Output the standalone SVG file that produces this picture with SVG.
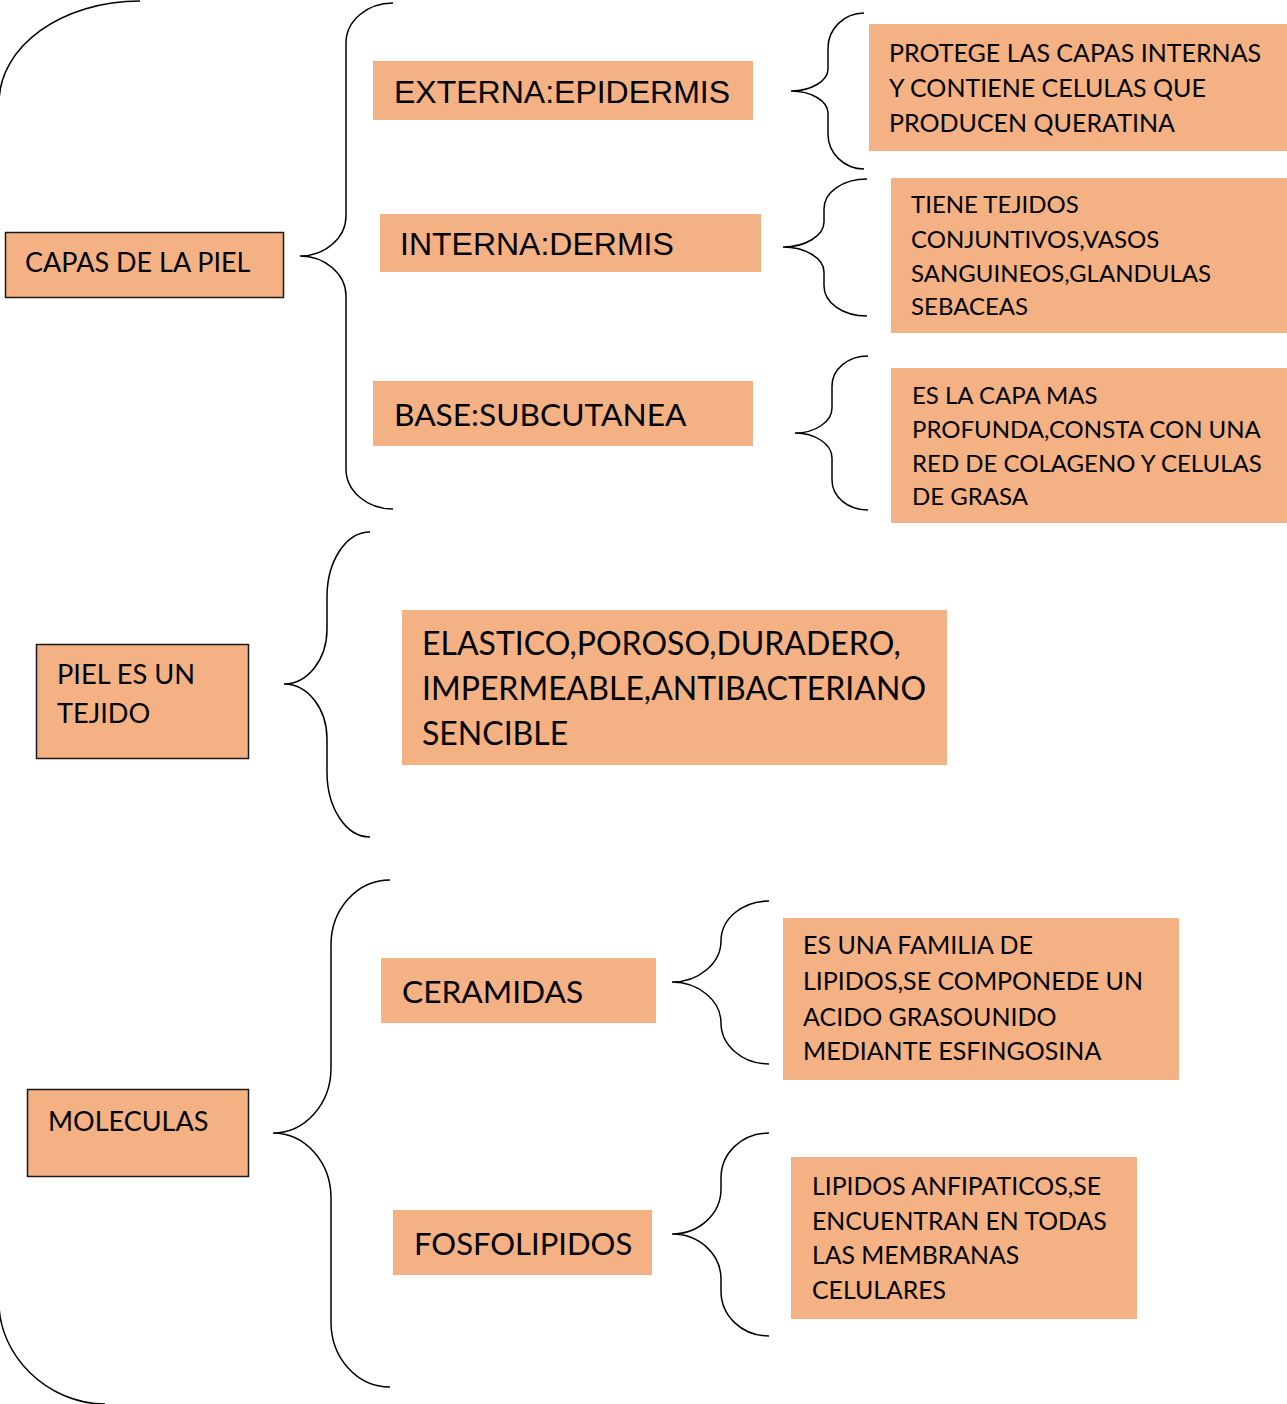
<svg xmlns="http://www.w3.org/2000/svg" width="1287" height="1404" viewBox="0 0 1287 1404">
<style>
.box{fill:#F4B183}
.bord{stroke:#1a1a1a;stroke-width:1.5}
.t{font-family:Lato,"Open Sans",sans-serif;fill:#000}
.a{font-family:"Liberation Sans",Arial,sans-serif;fill:#000;font-size:32px}
.br{fill:none;stroke:#000;stroke-width:1.5}
</style>
<rect width="1287" height="1404" fill="#fff"/>
<g id="connectors">
<path class="br" d="M140,1 C62,1 -1,46 -1,103 L-1,1303 C-1,1355 47,1404 105,1404"/>
<path class="br" d="M393,3 C367,3 346,21 346,43 L346,216 C346,238 325,256 300,256 C325,256 346,274 346,296 L346,469 C346,491 367,509 393,509"/>
<path class="br" d="M370,532 C346,532 327,561 327,597 L327,629 C327,659 308,684 284,684 C308,684 327,709 327,739 L327,772 C327,808 346,837 370,837"/>
<path class="br" d="M390,880 C357,880 331,909 331,945 L331,1068 C331,1104 305,1133 273,1133 C305,1133 331,1162 331,1198 L331,1322 C331,1358 357,1387 390,1387"/>
<path class="br" d="M864,13 C844,13 828,29 828,48 L828,69 C828,81 811,91 791,91 C811,91 828,101 828,113 L828,134 C828,153 844,169 864,169"/>
<path class="br" d="M867,179 C843,179 824,192 824,209 L824,222 C824,236 805,247 783,247 C805,247 824,258 824,272 L824,286 C824,303 843,316 867,316"/>
<path class="br" d="M868,356 C848,356 832,369 832,386 L832,408 C832,422 815,433 795,433 C815,433 832,444 832,458 L832,480 C832,497 848,510 868,510"/>
<path class="br" d="M769,901 C742,901 721,919 721,941 C721,963 699,982 672,982 C699,982 721,1001 721,1023 C721,1045 742,1064 769,1064"/>
<path class="br" d="M769,1133 C742,1133 721,1153 721,1178 L721,1189 C721,1214 699,1234 672,1234 C699,1234 721,1254 721,1279 L721,1291 C721,1316 742,1336 769,1336"/>
</g>
<g id="capas">
<rect class="box bord" x="5.5" y="232.5" width="278" height="65"/>
<text class="t" x="25" y="272" font-size="27">CAPAS DE LA PIEL</text>
</g>
<g id="externa">
<rect class="box" x="373" y="61" width="380" height="59"/>
<text class="a" x="394" y="103">EXTERNA:EPIDERMIS</text>
</g>
<g id="interna">
<rect class="box" x="380" y="214" width="381" height="58"/>
<text class="a" x="400" y="255">INTERNA:DERMIS</text>
</g>
<g id="base">
<rect class="box" x="373" y="381" width="380" height="65"/>
<text class="t" x="394" y="426" font-size="31.7">BASE:SUBCUTANEA</text>
</g>
<g id="protege">
<rect class="box" x="869" y="24" width="418" height="127"/>
<text class="t" font-size="25"><tspan x="889" y="62">PROTEGE LAS CAPAS INTERNAS</tspan><tspan x="889" y="97">Y CONTIENE CELULAS QUE</tspan><tspan x="889" y="132">PRODUCEN QUERATINA</tspan></text>
</g>
<g id="tiene">
<rect class="box" x="891" y="178" width="396" height="155"/>
<text class="t" font-size="24"><tspan x="911" y="213">TIENE TEJIDOS</tspan><tspan x="911" y="248">CONJUNTIVOS,VASOS</tspan><tspan x="911" y="282">SANGUINEOS,GLANDULAS</tspan><tspan x="911" y="315">SEBACEAS</tspan></text>
</g>
<g id="profunda">
<rect class="box" x="891" y="368" width="396" height="155"/>
<text class="t" font-size="24"><tspan x="912" y="404">ES LA CAPA MAS</tspan><tspan x="912" y="438">PROFUNDA,CONSTA CON UNA</tspan><tspan x="912" y="472">RED DE COLAGENO Y CELULAS</tspan><tspan x="912" y="505">DE GRASA</tspan></text>
</g>
<g id="piel">
<rect class="box bord" x="36.5" y="644.5" width="212" height="114"/>
<text class="t" font-size="27.2"><tspan x="57" y="684">PIEL ES UN</tspan><tspan x="57" y="723">TEJIDO</tspan></text>
</g>
<g id="elastico">
<rect class="box" x="402" y="610" width="545" height="155"/>
<text class="t" font-size="32"><tspan x="422" y="655">ELASTICO,POROSO,DURADERO,</tspan><tspan x="422" y="700">IMPERMEABLE,ANTIBACTERIANO</tspan><tspan x="422" y="745">SENCIBLE</tspan></text>
</g>
<g id="moleculas">
<rect class="box bord" x="27.5" y="1089.5" width="221" height="87"/>
<text class="t" x="48" y="1131" font-size="27">MOLECULAS</text>
</g>
<g id="ceramidas">
<rect class="box" x="381" y="958" width="275" height="65"/>
<text class="t" x="402" y="1003" font-size="31.7">CERAMIDAS</text>
</g>
<g id="fosfolipidos">
<rect class="box" x="393" y="1210" width="259" height="65"/>
<text class="t" x="414" y="1255" font-size="31">FOSFOLIPIDOS</text>
</g>
<g id="familia">
<rect class="box" x="783" y="918" width="396" height="162"/>
<text class="t" font-size="25"><tspan x="803" y="954">ES UNA FAMILIA DE</tspan><tspan x="803" y="990">LIPIDOS,SE COMPONEDE UN</tspan><tspan x="803" y="1026">ACIDO GRASOUNIDO</tspan><tspan x="803" y="1060">MEDIANTE ESFINGOSINA</tspan></text>
</g>
<g id="lipidos">
<rect class="box" x="791" y="1157" width="346" height="162"/>
<text class="t" font-size="24.8"><tspan x="812" y="1195">LIPIDOS ANFIPATICOS,SE</tspan><tspan x="812" y="1230">ENCUENTRAN EN TODAS</tspan><tspan x="812" y="1264">LAS MEMBRANAS</tspan><tspan x="812" y="1299">CELULARES</tspan></text>
</g>
</svg>
